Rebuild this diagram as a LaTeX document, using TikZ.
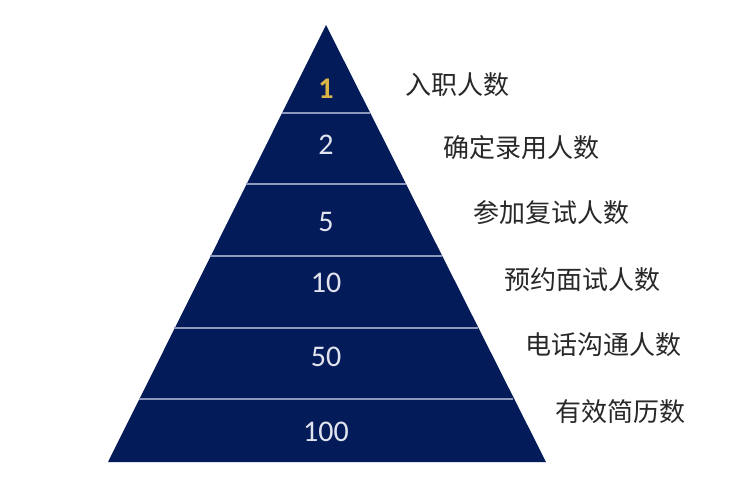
\documentclass[tikz,border=0pt]{standalone}
\usepackage{fontspec}
\setmainfont{Carlito}
\newfontfamily\cjk{Noto Sans CJK SC}
\usepackage{tikz}
\definecolor{navy}{RGB}{4,27,89}
\definecolor{gold}{RGB}{218,180,70}
\definecolor{digit}{RGB}{225,228,238}
\definecolor{divider}{RGB}{140,152,188}
\definecolor{label}{RGB}{40,40,40}
\tikzset{
	num/.style={inner sep=0pt, color=digit, font=\fontsize{30}{30}\selectfont},
	lab/.style={inner sep=0pt, anchor=west, color=label, font=\cjk\fontsize{26}{26}\selectfont}
}

\begin{document}
\begin{tikzpicture}[x=1pt, y=-1pt]
		%%%%% START %%%%%
		\useasboundingbox[fill=white] (0, 0) rectangle (740, 498);
		
		\fill[navy] (326, 25) -- (546, 462) -- (108, 462) -- cycle;
		
		\draw[line width=1.5pt, color=divider] (281.9, 113) -- (370.1, 113);
		\draw[line width=1.5pt, color=divider] (246.3, 184) -- (405.7, 184);
		\draw[line width=1.5pt, color=divider] (210.3, 256) -- (441.7, 256);
		\draw[line width=1.5pt, color=divider] (174.2, 328) -- (477.8, 328);
		\draw[line width=1.5pt, color=divider] (138.6, 399) -- (513.4, 399);
		
		\node[num, color=gold, font=\bfseries\fontsize{30}{30}\selectfont] (n1) at (326, 89) {1};
		\node[num] (n2) at (326, 145) {2};
		\node[num] (n5) at (326, 222) {5};
		\node[num] (n10) at (326, 283) {10};
		\node[num] (n50) at (326, 357) {50};
		\node[num] (n100) at (326, 432) {100};
		
		\node[lab] (l1) at (405, 85) {入职人数};
		\node[lab] (l2) at (443, 148) {确定录用人数};
		\node[lab] (l5) at (473, 213) {参加复试人数};
		\node[lab] (l10) at (504, 280) {预约面试人数};
		\node[lab] (l50) at (525, 345) {电话沟通人数};
		\node[lab] (l100) at (555, 412) {有效简历数};
		
		%%%%% END %%%%%
	\end{tikzpicture}
\end{document}
